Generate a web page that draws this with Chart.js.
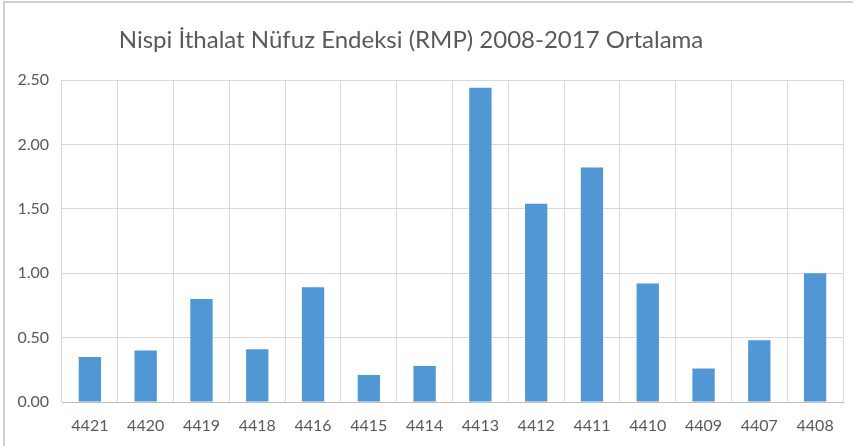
<!DOCTYPE html>
<html>
<head>
<meta charset="utf-8">
<script src="https://cdn.jsdelivr.net/npm/chart.js@4"></script>
<style>
    body { margin: 0; background: #fff; }
    #wrap { position: relative; width: 853px; height: 446px; }
    #frame { position: absolute; left: 3px; top: 1px; right: 0; bottom: 0; border-left: 2px solid #d0d0d0; border-top: 2px solid #d0d0d0; pointer-events: none; }
</style>
</head>
<body>
<div id="wrap">
    <canvas id="rmpChart" width="853" height="446"></canvas>
    <div id="frame"></div>
</div>
<script>
// Data
const categories = ['4421', '4420', '4419', '4418', '4416', '4415', '4414', '4413', '4412', '4411', '4410', '4409', '4407', '4408'];
const rmpValues = [0.35, 0.40, 0.80, 0.41, 0.89, 0.21, 0.28, 2.44, 1.54, 1.82, 0.92, 0.26, 0.48, 1.00];
const titleText = 'Nispi İthalat Nüfuz Endeksi (RMP) 2008-2017 Ortalama';

const fontFamily = 'Lato, "Open Sans", sans-serif';
const gridColor = '#d9d9d9';
const textColor = '#595959';

// Title drawn at a fixed spot (Excel centres it off the plot centre)
const titlePlugin = {
    id: 'excelTitle',
    afterDraw(chart) {
        const ctx = chart.ctx;
        ctx.save();
        ctx.font = '24px ' + fontFamily;
        ctx.fillStyle = textColor;
        ctx.textAlign = 'center';
        ctx.textBaseline = 'middle';
        ctx.fillText(titleText, 411, 40);
        ctx.restore();
    }
};

const ctx = document.getElementById('rmpChart').getContext('2d');
new Chart(ctx, {
    type: 'bar',
    data: {
        labels: categories,
        datasets: [{
            data: rmpValues,
            backgroundColor: '#5097d4',
            barPercentage: 0.4,
            categoryPercentage: 1.0
        }]
    },
    options: {
        responsive: false,
        animation: false,
        layout: { padding: { top: 80, right: 10, left: 0, bottom: 0 } },
        plugins: { legend: { display: false }, tooltip: { enabled: false } },
        scales: {
            x: {
                offset: true,
                grid: { offset: true, color: gridColor, drawTicks: false },
                border: { color: '#bfbfbf', width: 1 },
                ticks: { color: textColor, font: { family: fontFamily, size: 16 }, padding: 14 },
                afterFit: (scale) => { scale.height = 44; }
            },
            y: {
                min: 0,
                max: 2.5,
                grid: { color: gridColor, drawTicks: false },
                border: { display: false },
                ticks: {
                    stepSize: 0.5,
                    color: textColor,
                    font: { family: fontFamily, size: 16 },
                    padding: 13,
                    callback: (value) => value.toFixed(2)
                },
                afterFit: (scale) => { scale.width = 62; }
            }
        }
    },
    plugins: [titlePlugin]
});
</script>
</body>
</html>
